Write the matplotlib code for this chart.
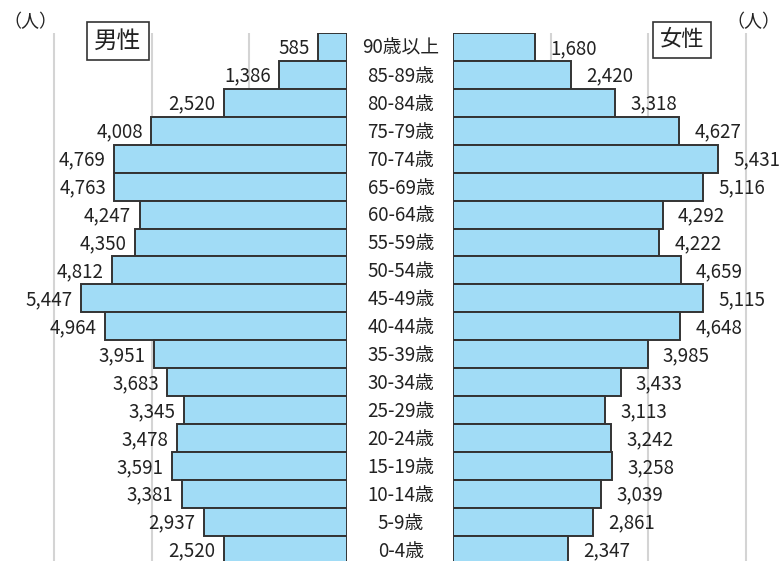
#!/usr/bin/env python3
"""
Population pyramid (male / female by 5-year age group).
"""

import matplotlib
matplotlib.use("Agg")
import matplotlib.pyplot as plt
from matplotlib.transforms import blended_transform_factory

plt.rcParams["font.family"] = ["Noto Sans CJK JP", "DejaVu Sans"]

# ============================================================
# DATA
# ============================================================

age_groups = [
    "90歳以上", "85-89歳", "80-84歳", "75-79歳", "70-74歳", "65-69歳",
    "60-64歳", "55-59歳", "50-54歳", "45-49歳", "40-44歳", "35-39歳",
    "30-34歳", "25-29歳", "20-24歳", "15-19歳", "10-14歳", "5-9歳", "0-4歳",
]

male = [585, 1386, 2520, 4008, 4769, 4763, 4247, 4350, 4812, 5447,
        4964, 3951, 3683, 3345, 3478, 3591, 3381, 2937, 2520]

female = [1680, 2420, 3318, 4627, 5431, 5116, 4292, 4222, 4659, 5115,
          4648, 3985, 3433, 3113, 3242, 3258, 3039, 2861, 2347]

grid_values = [2000, 4000, 6000]

# ============================================================
# LAYOUT (pixels)
# ============================================================

W, H = 781, 561
PX_PER_UNIT = 97.7 / 2000          # 2000 people ~ 97.7 px
BAR_COLOR = "#a1dcf6"
EDGE_COLOR = "#333333"
TEXT_COLOR = "#222222"
GRID_COLOR = "#d4d4d4"

top_px = 33
row_px = 27.93
n = len(age_groups)
bottom_px = top_px + n * row_px

fig = plt.figure(figsize=(W / 100, H / 100), dpi=100)


def add_axes_px(x0, x1):
    return fig.add_axes([
        x0 / W,
        1 - bottom_px / H,
        (x1 - x0) / W,
        (bottom_px - top_px) / H,
    ])


ax_m = add_axes_px(0, 347)
ax_f = add_axes_px(453, W)

ax_m.set_xlim(347 / PX_PER_UNIT, 0)
ax_f.set_xlim(0, (W - 453) / PX_PER_UNIT)

ypos = list(range(n))[::-1]

for ax, values in ((ax_m, male), (ax_f, female)):
    ax.set_ylim(-0.5, n - 0.5)
    for g in grid_values:
        ax.axvline(g, color=GRID_COLOR, lw=1.5, zorder=0)
    ax.barh(ypos, values, height=1.0, color=BAR_COLOR,
            edgecolor=EDGE_COLOR, linewidth=1.4, zorder=2)
    for s in ax.spines.values():
        s.set_visible(False)
    ax.set_xticks([])
    ax.set_yticks([])
    ax.patch.set_alpha(0)

# value labels
for y, v in zip(ypos, male):
    ax_m.annotate(f"{v:,}", (v, y), xytext=(-6, -1), textcoords="offset points",
                  ha="right", va="center", fontsize=13.5, color=TEXT_COLOR)

for y, v in zip(ypos, female):
    ax_f.annotate(f"{v:,}", (v, y), xytext=(11, -1), textcoords="offset points",
                  ha="left", va="center", fontsize=13.5, color=TEXT_COLOR)

# age labels in the centre column
trans = blended_transform_factory(fig.transFigure, ax_m.transData)
for y, label in zip(ypos, age_groups):
    ax_m.text(401 / W, y - 0.05, label, transform=trans, ha="center",
              va="center", fontsize=13.5, color=TEXT_COLOR, clip_on=False)

# headers
fig.text(3 / W, 1 - 22 / H, "（人）", ha="left", va="center",
         fontsize=13, color=TEXT_COLOR)
fig.text(780 / W, 1 - 22 / H, "（人）", ha="right", va="center",
         fontsize=13, color=TEXT_COLOR)

box = dict(boxstyle="square,pad=0.3", facecolor="white",
           edgecolor=EDGE_COLOR, linewidth=1.2)
fig.text(118 / W, 1 - 41 / H, "男性", ha="center", va="center",
         fontsize=17, color=TEXT_COLOR, bbox=box)
fig.text(682 / W, 1 - 40 / H, "女性", ha="center", va="center",
         fontsize=16, color=TEXT_COLOR, bbox=box)

fig.savefig("out.png", dpi=100)
